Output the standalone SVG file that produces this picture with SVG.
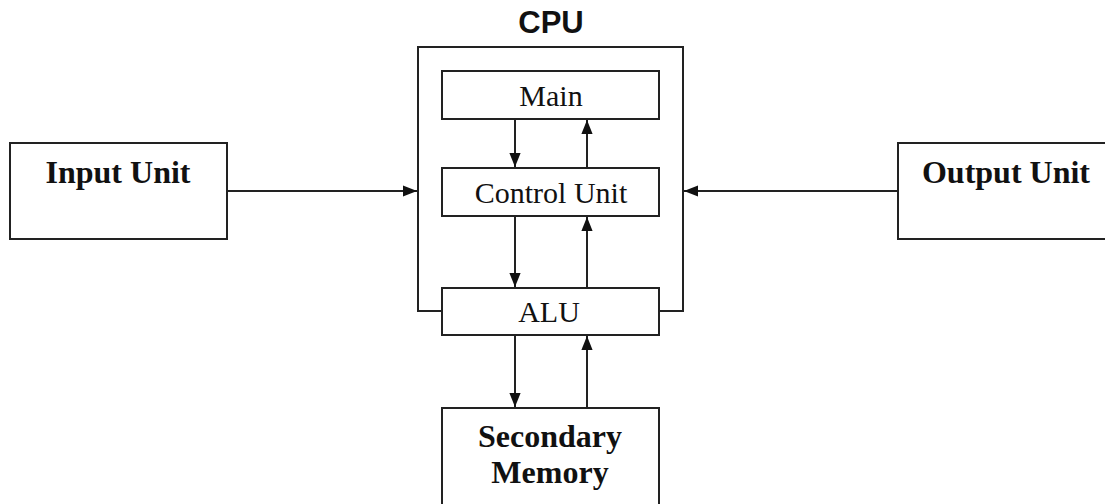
<svg xmlns="http://www.w3.org/2000/svg" width="1105" height="504" viewBox="0 0 1105 504">
<style>
.box{fill:#fff;stroke:#222;stroke-width:2}
.ln{fill:none;stroke:#222;stroke-width:2}
.t{font-family:"Liberation Serif",serif;font-size:30px;fill:#111;text-anchor:middle}
.b{font-family:"Liberation Serif",serif;font-size:32px;font-weight:bold;fill:#111;text-anchor:middle}
.cpu{font-family:"Liberation Sans",sans-serif;font-size:31px;font-weight:bold;fill:#111;text-anchor:middle}
</style>
<defs>
<marker id="ah" viewBox="0 0 10 10" refX="10" refY="5" markerWidth="14" markerHeight="14" markerUnits="userSpaceOnUse" orient="auto">
<path d="M0,1 L10,5 L0,9 z" fill="#111"/>
</marker>
</defs>
<g id="cpu">
<text class="cpu" x="551" y="33">CPU</text>
<path class="ln" d="M443,311 H418 V47 H683 V311 H659"/>
</g>
<g id="main"><rect class="box" x="442" y="71" width="217" height="48"/><text class="t" x="551" y="106">Main</text></g>
<g id="control"><rect class="box" x="442" y="168" width="217" height="48"/><text class="t" x="551" y="203">Control Unit</text></g>
<g id="alu"><rect class="box" x="442" y="288" width="217" height="47"/><text class="t" x="549" y="322">ALU</text></g>
<g id="secondary"><rect class="box" x="442" y="408" width="217" height="100"/><text class="b" x="550" y="447">Secondary</text><text class="b" x="550" y="483">Memory</text></g>
<g id="input"><rect class="box" x="10" y="143" width="217" height="96"/><text class="b" x="118" y="183">Input Unit</text></g>
<g id="output"><rect class="box" x="898" y="143" width="217" height="96"/><text class="b" x="1006" y="183">Output Unit</text></g>
<g id="connectors">
<line class="ln" x1="515" y1="119" x2="515" y2="167" marker-end="url(#ah)"/>
<line class="ln" x1="587" y1="168" x2="587" y2="120" marker-end="url(#ah)"/>
<line class="ln" x1="515" y1="216" x2="515" y2="287" marker-end="url(#ah)"/>
<line class="ln" x1="587" y1="288" x2="587" y2="217" marker-end="url(#ah)"/>
<line class="ln" x1="515" y1="335" x2="515" y2="407" marker-end="url(#ah)"/>
<line class="ln" x1="587" y1="408" x2="587" y2="336" marker-end="url(#ah)"/>
<line class="ln" x1="227" y1="191" x2="417" y2="191" marker-end="url(#ah)"/>
<line class="ln" x1="898" y1="191" x2="684" y2="191" marker-end="url(#ah)"/>
</g>
</svg>
